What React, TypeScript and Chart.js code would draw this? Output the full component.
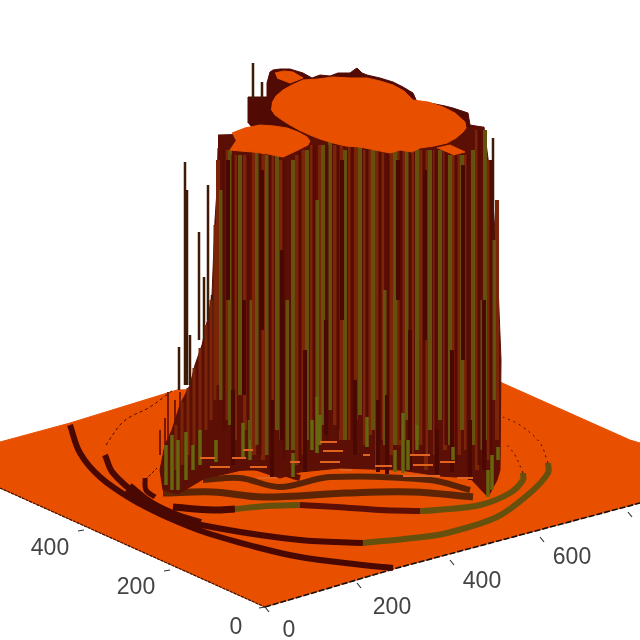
import React, { useEffect, useRef } from "react";
import { Chart, registerables } from "chart.js";

Chart.register(...registerables);

type P = [number, number];

// Projected surface outlines (value space of the hidden axes)
const floorOutline: P[] = [[0,442],[70,423],[177,390],[500,382],[630,440],[640,443],[640,503],[397,568],[265,607],[0,488]];
const rearOutline: P[] = [[248,123],[248,97],[267,97],[267,83],[270,72],[273,70],[280,69],[290,69],[303,73],[312,78],[320,75],[330,76],[338,73],[350,73],[354,70],[357,68],[362,73],[367,75],[380,78],[393,82],[403,87],[413,93],[417,102],[430,103],[445,106],[453,108],[462,111],[468,113],[470,125],[482,127],[470,150],[270,150]];
const columnOutline: P[] = [[218,148],[217,190],[215,220],[212,295],[207,322],[202,345],[195,365],[190,385],[180,405],[172,430],[165,445],[160,470],[163,490],[178,494],[205,478],[225,474],[250,468],[280,478],[300,472],[340,468],[400,470],[440,476],[470,478],[488,497],[497,480],[500,470],[501,360],[497,260],[492,190],[484,127],[218,135]];
const mainDisk: P[] = [[272,103],[276,96],[283,90],[292,85],[303,80],[318,79],[333,77],[350,78],[367,78],[380,81],[393,85],[404,91],[413,100],[428,102],[443,107],[455,113],[465,122],[466,128],[463,132],[456,138],[447,143],[434,146],[420,148],[412,152],[400,150],[390,153],[375,150],[360,147],[346,146],[333,143],[320,139],[310,135],[299,130],[290,125],[282,120],[275,115],[271,109]];
const leftDisk: P[] = [[232,133],[245,128],[260,125],[274,126],[287,128],[298,132],[307,137],[310,141],[308,145],[296,151],[283,157],[268,154],[253,152],[240,151],[230,150],[236,141]];
const backDisk: P[] = [[275,73],[284,71],[293,72],[303,78],[290,83],[277,78]];
const rightDisk: P[] = [[437,148],[450,145],[465,152],[453,155]];

// Vertical strands: x, top, bottom
const oliveX = [221,230,240,250,257,267,277,287,293,307,317,323,330,345,360,373,385,395,407,417,430,440,450,462,473,481,485,494];
const oliveTop = [190,150,155,300,150,155,150,300,160,150,200,145,130,150,130,150,290,140,150,145,150,150,155,155,150,300,130,240];
const oliveBottom = [400,425,395,440,445,455,430,450,450,440,400,425,410,440,415,430,445,445,420,440,430,420,445,430,445,450,440,400];
const rustX = [218,226,235,245,254,263,272,281,297,303,312,320,335,341,350,356,365,370,377,382,391,399,404,412,421,426,435,445,454,459,466,477,489,497];
const rustTop = [160,150,155,155,150,150,150,160,155,150,145,145,145,145,125,125,150,150,150,150,150,150,150,150,150,150,150,150,155,155,155,130,160,200];
const rustBottom = [385,420,440,430,455,460,460,440,465,455,430,420,425,440,440,420,445,435,470,440,455,445,440,455,445,470,455,450,465,455,450,470,460,440];
const maroonX = [224,233,248,260,270,284,300,314,327,338,352,367,380,388,401,410,424,436,446,456,468,479,491];
const maroonTop = [150,155,155,150,150,160,150,145,145,145,125,150,150,150,150,145,150,150,150,155,155,130,160];
const maroonBottom = [430,445,420,455,470,460,465,450,440,430,440,450,445,460,440,465,455,470,445,465,470,465,460];
const darkX = [233,244,272,282,305,326,355,378,387,410,437,452,470,484,228,262,342,398,425,463];
const darkTop = [390,300,400,250,350,320,380,400,395,330,430,350,420,300,160,170,160,160,170,165];
const darkBottom = [465,395,478,440,472,435,455,472,474,470,474,472,480,470,300,330,320,300,340,360];
const spikeX = [253,262,185,187,208,199,204,190,179,212,493,491,496];
const spikeTop = [63,82,162,190,185,232,277,335,347,295,138,193,235];
const spikeBottom = [100,100,385,385,320,340,340,385,390,330,300,400,320];
const lowSpikeX = [165,168,175,160,180];
const lowSpikeTop = [418,392,400,430,392];
const lowSpikeBottom = [445,440,425,455,425];
const edgeX = [176,182,188,194,200,206,211,215];
const edgeTop = [425,402,388,368,348,325,300,225];
const edgeBottom = [470,465,455,445,440,430,420,400];
const baseOliveX = [166,172,178,186,193,200,216,243,250,293,312,317,320,367,395,403,408,417,453,488,492,498];
const baseOliveTop = [445,435,440,432,445,430,440,423,440,453,420,397,415,417,450,413,440,425,447,470,455,447];
const baseOliveBottom = [485,490,490,480,470,465,462,457,460,477,450,453,445,447,472,473,470,450,460,497,490,460];
const sliverStart = [210,250,257,243,320,323,320,363,410,413,403,457,232,290,340,200,375,440];
const sliverEnd = [230,267,277,253,337,343,340,370,430,433,440,473,246,300,352,215,392,455];
const sliverY = [467,467,478,450,442,451,462,455,455,465,476,478,458,462,470,458,466,462];

// Rings on the floor
const ringAScreen: P[] = [[70,425],[80,453],[100,477],[133,500],[167,517],[207,533],[260,548],[300,557],[363,565],[393,568]];
const ringBDark: P[] = [[105,455],[113,473],[140,497],[173,517],[217,528],[300,540],[363,543]];
const ringBOlive: P[] = [[363,543],[423,537],[447,533],[497,517],[530,493],[548,473],[548,463]];
const ringBDots: P[] = [[548,463],[540,443],[520,425],[503,417]];
const ringCDark: P[] = [[173,507],[213,510],[235,509]];
const ringCOlive: P[] = [[235,509],[267,506],[300,505]];
const ringCDark2: P[] = [[300,505],[337,507],[380,510],[420,511]];
const ringCOlive2: P[] = [[420,511],[437,510],[480,505],[510,493],[523,480],[523,473]];
const ringCDots: P[] = [[523,473],[515,455],[507,445]];
const ringD: P[] = [[163,493],[213,492],[263,497],[347,493],[413,492],[473,497]];
const ringE: P[] = [[203,480],[240,478],[280,487],[330,477],[430,480],[470,490]];
const ringF: P[] = [[207,470],[263,468],[300,478]];
const ringMerge: P[] = [[128,488],[150,505],[175,517],[200,525]];
const dashLeft: P[] = [[106,445],[120,425],[130,417],[150,407],[173,390]];
const dashInner: P[] = [[145,480],[157,468]];
const stubInner: P[] = [[145,478],[146,490],[155,497]];

// Axes
const axisRight: P[] = [[265,607],[397,568],[640,503]];
const axisLeft: P[] = [[0,488],[265,607]];
const tickXPos: P[] = [[265,607],[357,583],[450,560],[540,537],[628,512]];
const tickYPos: P[] = [[265,607],[170,570],[84,530]];
const labelsX = ["0","200","400","600"];
const labelsXPos: P[] = [[289,631],[392,608],[482,582],[572,558]];
const labelsY = ["0","200","400"];
const labelsYPos: P[] = [[236,628],[136,588],[50,549]];

const pts = (l: P[]) => l.map(([x, y]) => ({ x, y }));
const strands = (xs: number[], tops: number[], bottoms: number[]) =>
  xs.flatMap((x, i) => [{ x, y: tops[i] }, { x, y: bottoms[i] }, { x, y: null as any }]);
const sliver = () =>
  sliverStart.flatMap((s, i) => [{ x: s, y: sliverY[i] }, { x: sliverEnd[i], y: sliverY[i] }, { x: s, y: null as any }]);
const ticks = (l: P[], dx: number, dy: number) =>
  l.flatMap(([x, y]) => [{ x, y }, { x: x + dx, y: y + dy }, { x, y: null as any }]);

const ORANGE = "#e85000";
const MAROON = "#5c0f05";
const DARK = "#4a0803";
const OLIVE = "#66500e";
const RUST = "#7a2408";
const BRIGHT = "#66660f";

const poly = (l: P[], c: string) => ({ data: pts(l), fill: "shape", backgroundColor: c, borderColor: c, borderWidth: 1 });
const line = (data: any[], c: string, w: number, extra: any = {}) => ({ data, borderColor: c, borderWidth: w, fill: false, ...extra });
const curve = (l: P[], c: string, w: number, extra: any = {}) => line(pts(l), c, w, { tension: 0.35, ...extra });

export default function App() {
  const ref = useRef<HTMLCanvasElement>(null);
  useEffect(() => {
    const layers: any[] = [
      poly(floorOutline, ORANGE),
      line(pts(axisLeft), "#3a1208", 1.2, { borderDash: [3, 1] }),
      line(pts(axisRight), "#101010", 1.6, { borderDash: [6, 2] }),
      line(ticks(tickXPos, 4, 5), "#333333", 1.2),
      line(ticks(tickYPos, -6, 1), "#333333", 1.2),
      curve(ringAScreen, DARK, 6),
      curve(ringBDark, DARK, 6),
      curve(ringMerge, DARK, 12),
      curve(ringBOlive, OLIVE, 6),
      curve(ringBDots, DARK, 1, { borderDash: [2, 4] }),
      curve(ringCDark, DARK, 7),
      curve(ringCOlive, OLIVE, 6),
      curve(ringCDark2, MAROON, 6),
      curve(ringCOlive2, OLIVE, 6),
      curve(ringCDots, DARK, 1, { borderDash: [2, 4] }),
      curve(ringD, "#5e2406", 7),
      curve(ringE, "#5a2206", 6),
      curve(ringF, MAROON, 6),
      curve(dashLeft, DARK, 1, { borderDash: [3, 3] }),
      curve(dashInner, DARK, 1, { borderDash: [3, 2] }),
      curve(stubInner, DARK, 5),
      line(strands(lowSpikeX, lowSpikeTop, lowSpikeBottom), "#7a1a08", 2),
      poly(rearOutline, "#520b04"),
      poly(columnOutline, MAROON),
      line(strands(spikeX, spikeTop, spikeBottom), "#3f1a06", 2.5),
      line(strands(edgeX, edgeTop, edgeBottom), RUST, 3),
      line(strands(rustX, rustTop, rustBottom), RUST, 4),
      line(strands(oliveX, oliveTop, oliveBottom), OLIVE, 4),
      line(strands(maroonX, maroonTop, maroonBottom), "#560b04", 3),
      line(strands(darkX, darkTop, darkBottom), DARK, 4),
      line(strands(baseOliveX, baseOliveTop, baseOliveBottom), BRIGHT, 3.5),
      line(sliver(), "#e0641f", 1.8),
      poly(backDisk, ORANGE),
      poly(mainDisk, ORANGE),
      poly(leftDisk, ORANGE),
      poly(rightDisk, ORANGE),
    ];
    const tickText = {
      id: "tickText",
      afterDatasetsDraw(c: any) {
        const g = c.ctx;
        g.save();
        g.font = '23px "Liberation Sans"';
        g.fillStyle = "#444444";
        g.textAlign = "center";
        g.textBaseline = "middle";
        labelsX.forEach((t, i) => g.fillText(t, c.scales.x.getPixelForValue(labelsXPos[i][0]), c.scales.y.getPixelForValue(labelsXPos[i][1])));
        labelsY.forEach((t, i) => g.fillText(t, c.scales.x.getPixelForValue(labelsYPos[i][0]), c.scales.y.getPixelForValue(labelsYPos[i][1])));
        g.restore();
      },
    };
    const chart = new Chart(ref.current!, {
      type: "scatter",
      data: { datasets: layers.map((d, i) => ({ ...d, order: -i, showLine: true, pointRadius: 0, spanGaps: false })) },
      options: {
        animation: false,
        responsive: false,
        layout: { padding: 0 },
        plugins: { legend: { display: false }, tooltip: { enabled: false } },
        scales: {
          x: { type: "linear", min: 0, max: 640, display: false },
          y: { type: "linear", min: 0, max: 640, reverse: true, display: false },
        },
      } as any,
      plugins: [tickText],
    });
    return () => chart.destroy();
  }, []);
  return (
    <div style={{ position: "fixed", left: 0, top: 0, width: 640, height: 640, background: "#fff" }}>
      <canvas ref={ref} width={640} height={640} style={{ display: "block" }} />
    </div>
  );
}
